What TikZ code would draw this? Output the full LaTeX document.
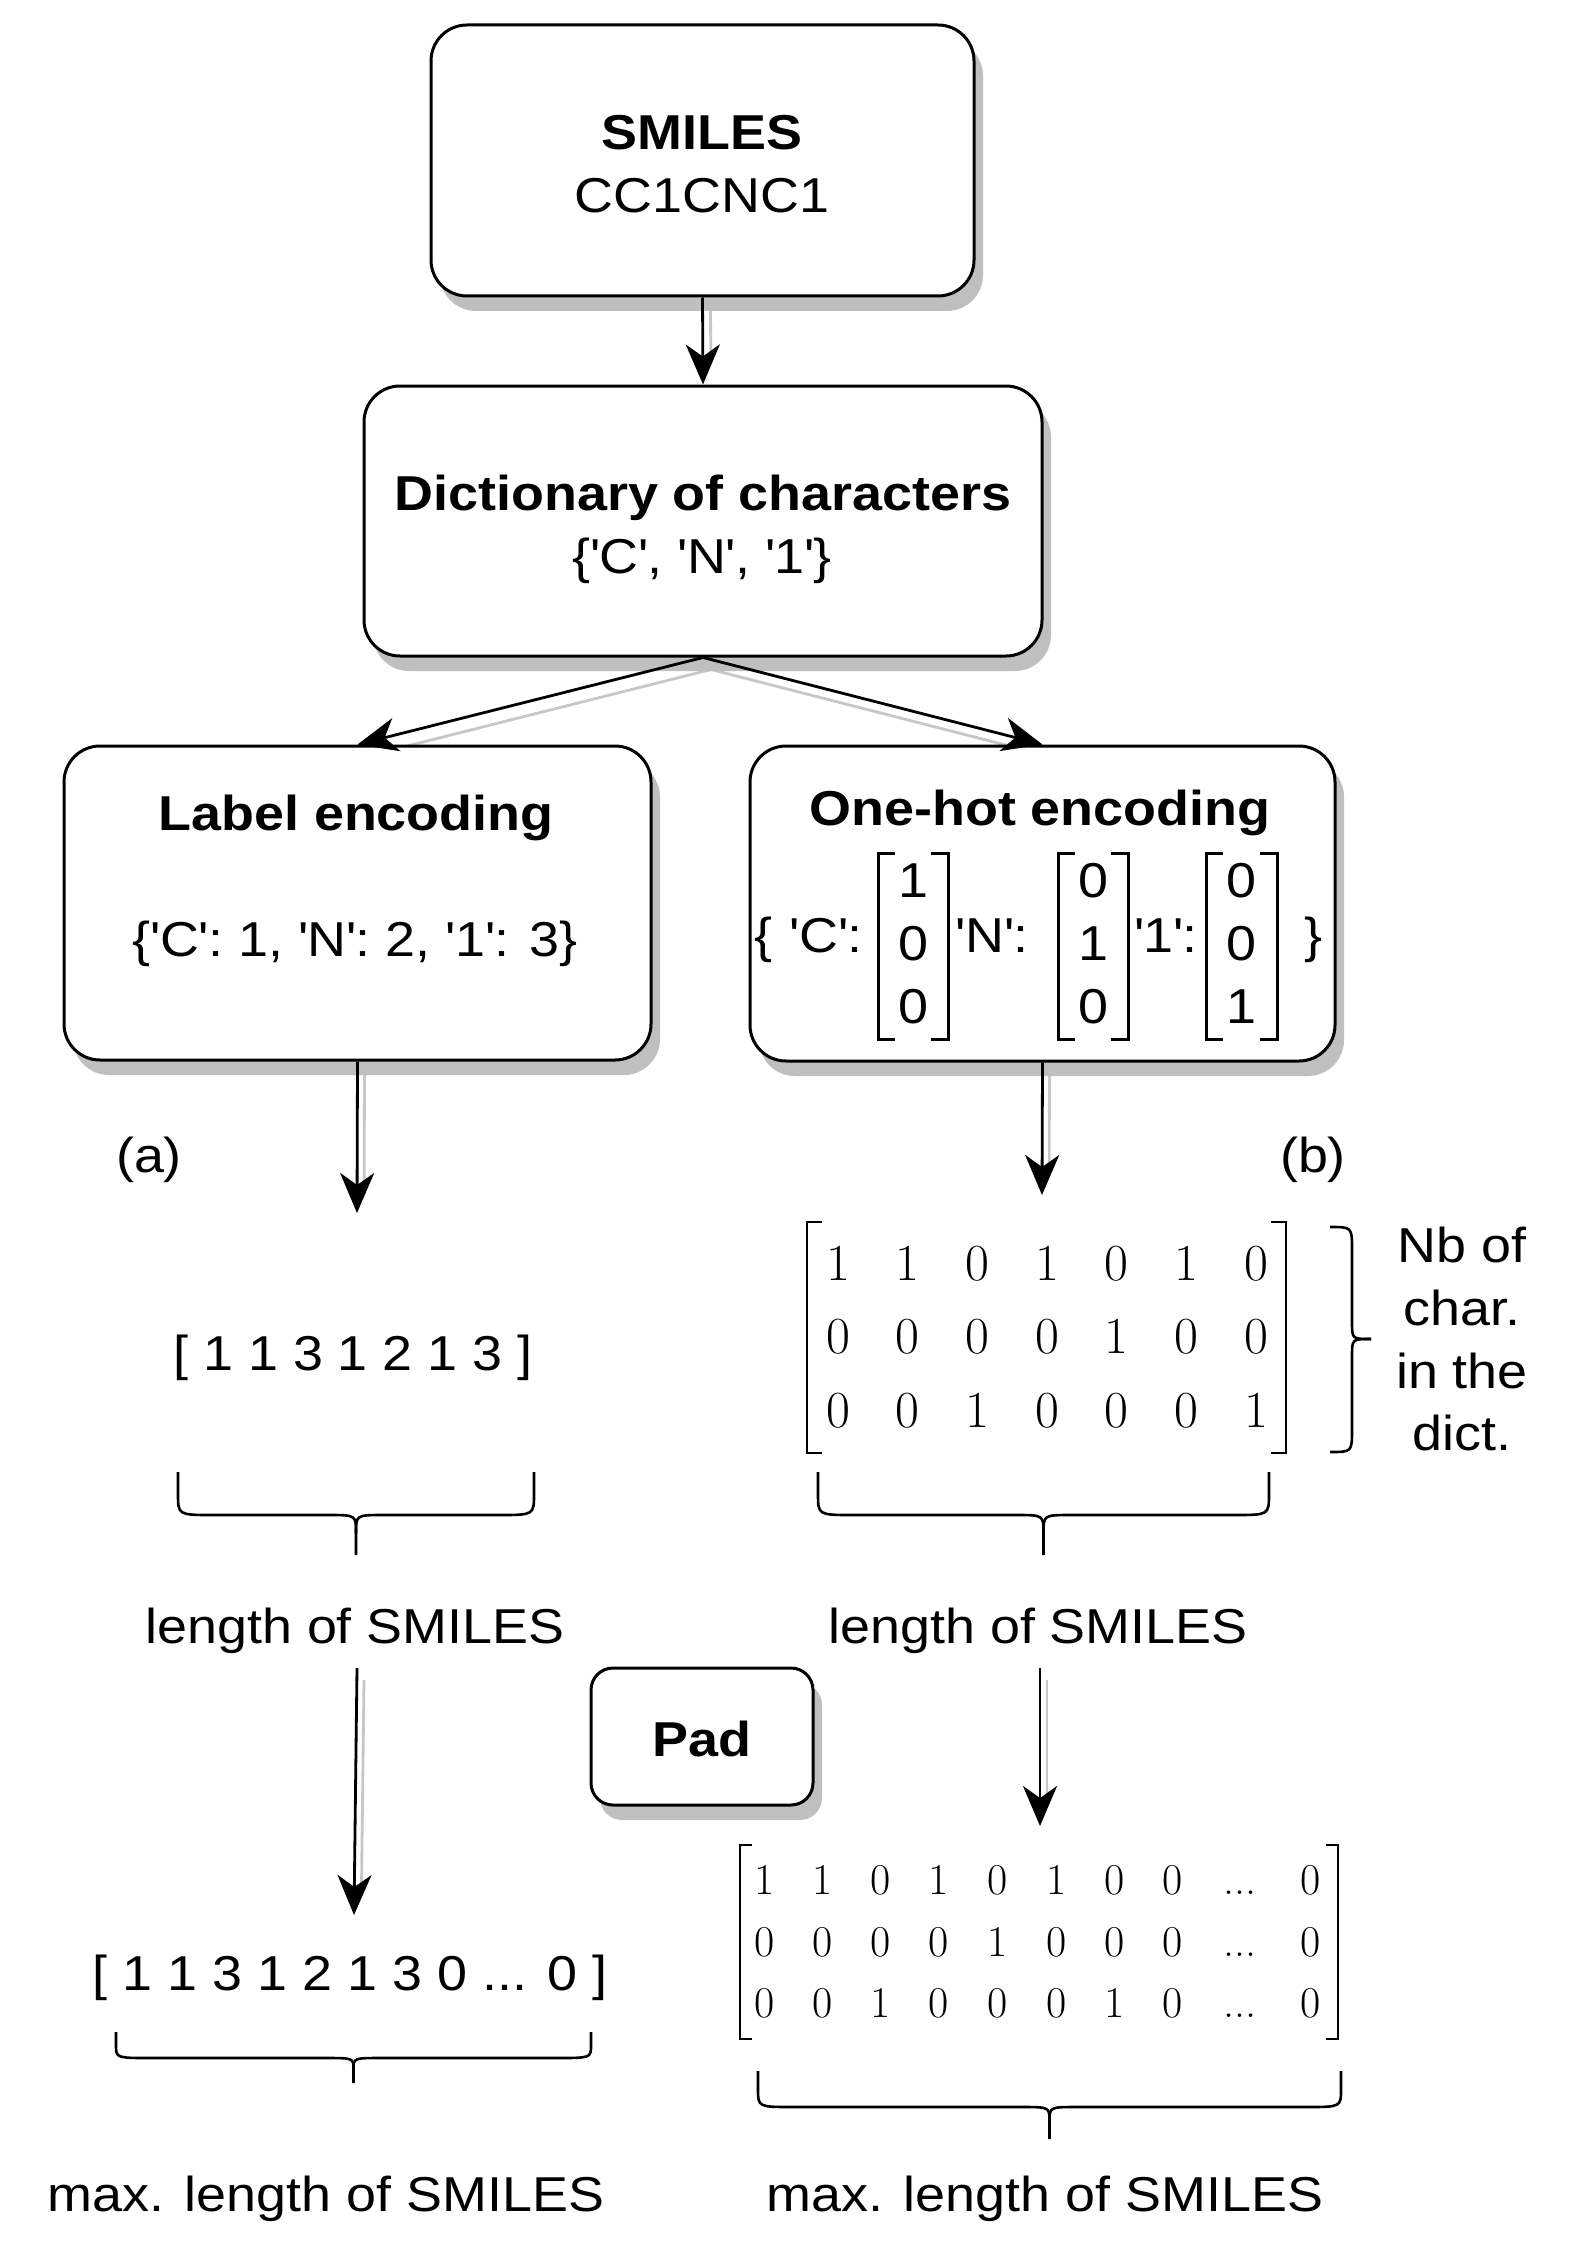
\documentclass[tikz,border=0pt]{standalone}
\usepackage{fontspec}
\newfontfamily\arial[FakeStretch=1.1]{Liberation Sans}
\usetikzlibrary{arrows.meta,shadows}
\pgfdeclarelayer{back}
\pgfdeclarelayer{bg}
\pgfsetlayers{back,bg,main}
\newcommand\myq{\textquotesingle}
\newcommand\mydots{...}
\newcommand\myhbrace[5]{%
 \pgfmathsetmacro\bxc{(#1+#2)/2}%
 \pgfmathsetmacro\bva{#4-0.5*(#4-#3)}%
 \pgfmathsetmacro\bvb{#4+0.45*(#5-#4)}%
 \draw[brace] (#1,#3) -- (#1,\bva) .. controls (#1,#4) .. (#1+35,#4) -- (\bxc-28,#4) .. controls (\bxc,#4) .. (\bxc,\bvb) -- (\bxc,#5);
 \draw[brace] (#2,#3) -- (#2,\bva) .. controls (#2,#4) .. (#2-35,#4) -- (\bxc+28,#4) .. controls (\bxc,#4) .. (\bxc,\bvb);
}
\begin{document}
\begin{tikzpicture}[x=0.5pt,y=-0.5pt,
  box/.style={draw, line width=1.5pt, rounded corners=18pt, fill=white, inner sep=0pt,
    drop shadow={shadow xshift=4.5pt, shadow yshift=-7.5pt, fill=black!25, opacity=1}},
  sf/.style={font=\arial\fontsize{24.5}{29}\selectfont, inner sep=0pt, anchor=base},
  sfb/.style={font=\arial\bfseries\fontsize{24.5}{29}\selectfont, inner sep=0pt, anchor=base},
  dig/.style={font=\rmfamily\fontsize{26}{30}\selectfont, inner sep=0pt, anchor=base},
  digs/.style={font=\rmfamily\fontsize{22}{26}\selectfont, inner sep=0pt, anchor=base},
  arr/.style={line width=1.4pt, -{Stealth[length=20pt,width=17pt,inset=6pt]}},
  eshadow/.style={line width=1.4pt, black!22, shorten >=18pt},
  brk/.style={line width=1.1pt},
  obrk/.style={line width=1.5pt},
  brace/.style={line width=1.3pt},
]
\begin{pgfonlayer}{back}
\fill[white] (0,0) rectangle (1584,2252);
\end{pgfonlayer}
\useasboundingbox (0,0) rectangle (1584,2252);

% boxes
\node[box, minimum width=271.5pt, minimum height=135.5pt] (smiles) at (702.5,160.5) {};
\node[box, minimum width=339pt, minimum height=135pt] (dict) at (703,521) {};
\node[box, minimum width=293.5pt, minimum height=157pt] (lbox) at (357.5,903) {};
\node[box, minimum width=292.5pt, minimum height=157.5pt] (obox) at (1042.5,903.5) {};
\node[box, rounded corners=11pt, minimum width=111pt, minimum height=68.5pt] (pad) at (702,1736.5) {};

% box texts
\node[sfb] (t1) at (702,150) {SMILES};
\node[sf] (t2) at (702,213) {CC1CNC1};
\node[sfb] (t3) at (703,510) {Dictionary of characters};
\node[sf] (t4) at (702,573) {\{\myq C\myq, \myq N\myq, \myq 1\myq\}};
\node[sfb] (t5) at (356,830) {Label encoding};
\node[sf] (t6) at (355,956) {\{\myq C\myq: 1, \myq N\myq: 2, \myq 1\myq: 3\}};
\node[sfb] (t7) at (1040,825) {One-hot encoding};
\node[sfb] (padt) at (702,1756) {Pad};

% one-hot contents
\node[sf] (ob1) at (763,952) {\{};
\node[sf] (oc) at (826,952) {\myq C\myq:};
\node[sf] (on) at (992,952) {\myq N\myq:};
\node[sf] (o1) at (1166,952) {\myq 1\myq:};
\node[sf] (ob2) at (1313,952) {\}};
\foreach \v/\yy [count=\i] in {1/897,0/960,0/1023} \node[sf] (oa\i) at (913,\yy) {\v};
\foreach \v/\yy [count=\i] in {0/897,1/960,0/1023} \node[sf] (ob\i) at (1093,\yy) {\v};
\foreach \v/\yy [count=\i] in {0/897,0/960,1/1023} \node[sf] (oo\i) at (1241,\yy) {\v};
\foreach \xa/\xb in {878/948,1058/1128,1206/1277}{
  \draw[obrk] (\xa+17,853) -- (\xa,853) -- (\xa,1039) -- (\xa+17,1039);
  \draw[obrk] (\xb-17,853) -- (\xb,853) -- (\xb,1039) -- (\xb-17,1039);
}

% connectors
\coordinate (aL) at (357,1213);
\coordinate (aR) at (1042,1195);
\coordinate (sL) at (357,1668);
\coordinate (eL) at (354,1915);
\coordinate (sR) at (1040,1668);
\coordinate (eR) at (1040,1826);
\begin{pgfonlayer}{bg}
\draw[eshadow] ([shift={(8,12)}]smiles.south) -- ([shift={(8,12)}]dict.north);
\draw[eshadow] ([shift={(8,12)}]dict.south) -- ([shift={(8,12)}]lbox.north);
\draw[eshadow] ([shift={(8,12)}]dict.south) -- ([shift={(8,12)}]obox.north);
\draw[eshadow] ([shift={(7,12)}]lbox.south) -- ([shift={(7,12)}]aL);
\draw[eshadow] ([shift={(7,12)}]obox.south) -- ([shift={(7,12)}]aR);
\draw[eshadow] ([shift={(7,12)}]sL) -- ([shift={(7,12)}]eL);
\draw[eshadow] ([shift={(7,12)}]sR) -- ([shift={(7,12)}]eR);
\end{pgfonlayer}
\draw[arr] (smiles.south) -- (dict.north);
\draw[arr] (dict.south) -- (lbox.north);
\draw[arr] (dict.south) -- (obox.north);
\draw[arr] (lbox.south) -- (aL);
\draw[arr] (obox.south) -- (aR);
\draw[arr] (sL) -- (eL);
\draw[arr] (sR) -- (eR);

% labels
\node[sf] (la) at (149,1172) {(a)};
\node[sf] (lb) at (1313,1172) {(b)};

% label vector
\node[sf] (vec1) at (353,1370) {[ 1 1 3 1 2 1 3 ]};
\myhbrace{178}{534}{1472}{1515}{1555}
\node[sf] (lenL) at (355,1643) {length of SMILES};

% one-hot matrix
\foreach \v [count=\i] in {1,1,0,1,0,1,0} \node[dig] (ma1\i) at ({838+69.7*(\i-1)},1280) {\v};
\foreach \v [count=\i] in {0,0,0,0,1,0,0} \node[dig] (ma2\i) at ({838+69.7*(\i-1)},1353) {\v};
\foreach \v [count=\i] in {0,0,1,0,0,0,1} \node[dig] (ma3\i) at ({838+69.7*(\i-1)},1427) {\v};
\draw[brk] (822,1222) -- (807,1222) -- (807,1453) -- (822,1453);
\draw[brk] (1271,1222) -- (1286,1222) -- (1286,1453) -- (1271,1453);
\draw[brace] (1330,1227) .. controls (1352,1227) .. (1352,1250) -- (1352,1322) .. controls (1352,1339) .. (1371,1339);
\draw[brace] (1371,1339) .. controls (1352,1339) .. (1352,1356) -- (1352,1429) .. controls (1352,1452) .. (1330,1452);
\node[sf] (nb1) at (1462,1262) {Nb of};
\node[sf] (nb2) at (1462,1325) {char.};
\node[sf] (nb3) at (1462,1388) {in the};
\node[sf] (nb4) at (1462,1450) {dict.};
\myhbrace{818}{1269}{1472}{1515}{1555}
\node[sf] (lenR) at (1038,1643) {length of SMILES};

% padded label vector
\node[sf] (vec2) at (350,1990) {[ 1 1 3 1 2 1 3 0 \mydots{} 0 ]};
\myhbrace{116}{591}{2032}{2058}{2083}
\node[sf] (maxL) at (326,2211) {max. length of SMILES};

% padded one-hot matrix
\foreach \v/\xx [count=\i] in {1/765,1/823,0/881,1/939,0/998,1/1057,0/1115,0/1173,\mydots/1240,0/1311} \node[digs] (mb1\i) at (\xx,1894) {\v};
\foreach \v/\xx [count=\i] in {0/765,0/823,0/881,0/939,1/998,0/1057,0/1115,0/1173,\mydots/1240,0/1311} \node[digs] (mb2\i) at (\xx,1956) {\v};
\foreach \v/\xx [count=\i] in {0/765,0/823,1/881,0/939,0/998,0/1057,1/1115,0/1173,\mydots/1240,0/1311} \node[digs] (mb3\i) at (\xx,2017) {\v};
\draw[brk] (752,1845) -- (740,1845) -- (740,2039) -- (752,2039);
\draw[brk] (1326,1845) -- (1338,1845) -- (1338,2039) -- (1326,2039);
\myhbrace{758}{1341}{2071}{2107}{2139}
\node[sf] (maxR) at (1045,2211) {max. length of SMILES};
\end{tikzpicture}
\end{document}
